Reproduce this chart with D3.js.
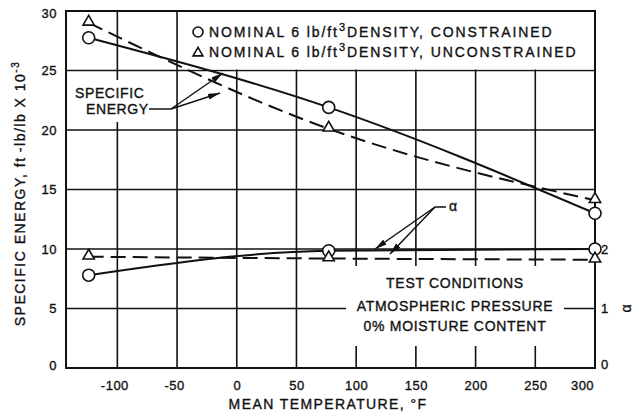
<!DOCTYPE html>
<html>
<head>
<meta charset="utf-8">
<script src="https://cdn.jsdelivr.net/npm/d3@7"></script>
<style>
  body { margin: 0; background: #fff; }
  text { font-family: "Liberation Sans", Arial, sans-serif; fill: #111; stroke: #111; stroke-width: 0.35px; }
</style>
</head>
<body>
<script>
// specific energy and alpha vs mean temperature

var width = 634;
var height = 414;

var temps = [-124, 77, 300];
var energyConstrained = [27.75, 21.9, 13.0];
var energyUnconstrained = [29.0, 20.1, 14.1];
var alphaConstrained = [1.56, 1.97, 2.0];
var alphaUnconstrained = [1.87, 1.84, 1.82];

var xTicks = [-100, -50, 0, 50, 100, 150, 200, 250, 300];
var yTicks = [0, 5, 10, 15, 20, 25, 30];
var alphaTicks = [0, 1, 2];

var plotLeft = 66, plotRight = 595, plotTop = 11, plotBottom = 368;

var xScale = d3.scaleLinear().domain([-143, 300]).range([plotLeft, plotRight]);
var yScale = d3.scaleLinear().domain([0, 30]).range([plotBottom, plotTop]);
var aScale = d3.scaleLinear().domain([0, 6]).range([plotBottom, plotTop]); // alpha on right side

var svg = d3.select("body").append("svg")
  .attr("width", width)
  .attr("height", height);

svg.append("defs").append("marker")
  .attr("id", "arrow")
  .attr("viewBox", "0 0 12 6")
  .attr("refX", 12).attr("refY", 3)
  .attr("markerWidth", 12).attr("markerHeight", 6)
  .attr("markerUnits", "userSpaceOnUse")
  .attr("orient", "auto")
  .append("path")
  .attr("d", "M0,0 L12,3 L0,6 Z")
  .attr("fill", "#111");

// grid
var grid = svg.append("g").attr("stroke", "#111").attr("stroke-width", 1.6);
grid.selectAll("line.v")
  .data(xTicks.filter(function(d){ return d < 300; }))
  .enter().append("line")
  .attr("class", "v")
  .attr("x1", function(d){ return xScale(d); })
  .attr("x2", function(d){ return xScale(d); })
  .attr("y1", plotTop).attr("y2", plotBottom);
grid.selectAll("line.h")
  .data(yTicks.filter(function(d){ return d > 0 && d < 30; }))
  .enter().append("line")
  .attr("class", "h")
  .attr("x1", plotLeft).attr("x2", plotRight)
  .attr("y1", function(d){ return yScale(d); })
  .attr("y2", function(d){ return yScale(d); });

// white areas behind the text blocks
svg.append("rect").attr("x", 190).attr("y", plotTop + 1).attr("width", plotRight - 191).attr("height", yScale(25) - plotTop - 2).attr("fill", "#fff");
svg.append("rect").attr("x", 72).attr("y", 80).attr("width", 78).attr("height", 42).attr("fill", "#fff");
svg.append("rect").attr("x", 346).attr("y", 266).attr("width", 218).attr("height", 80).attr("fill", "#fff");

// frame
svg.append("rect")
  .attr("x", plotLeft).attr("y", plotTop)
  .attr("width", plotRight - plotLeft).attr("height", plotBottom - plotTop)
  .attr("fill", "none").attr("stroke", "#111").attr("stroke-width", 2);

// axes
var plain = function(d){ return String(d); };

var xAxis = svg.append("g")
  .attr("transform", "translate(0," + plotBottom + ")")
  .call(d3.axisBottom(xScale).tickValues(xTicks).tickFormat(plain).tickSize(0).tickPadding(13));
xAxis.select(".domain").remove();
xAxis.selectAll("text")
  .attr("font-size", 13).attr("letter-spacing", 0.5)
  .attr("font-family", "Liberation Sans, Arial, sans-serif")
  .attr("dx", function(d){ return d === 300 ? -13 : (d < 0 ? -3 : 0); });

var yAxis = svg.append("g")
  .attr("transform", "translate(" + plotLeft + ",0)")
  .call(d3.axisLeft(yScale).tickValues(yTicks).tickFormat(plain).tickSize(0).tickPadding(9));
yAxis.select(".domain").remove();
yAxis.selectAll("text")
  .attr("font-size", 13).attr("letter-spacing", 0.5)
  .attr("font-family", "Liberation Sans, Arial, sans-serif")
  .attr("dy", function(d){ return d === 30 ? "0.5em" : (d === 0 ? "0.1em" : "0.32em"); });

var aAxis = svg.append("g")
  .attr("transform", "translate(" + plotRight + ",0)")
  .call(d3.axisRight(aScale).tickValues(alphaTicks).tickFormat(plain).tickSize(0).tickPadding(6));
aAxis.select(".domain").remove();
aAxis.selectAll("text")
  .attr("font-size", 13)
  .attr("font-family", "Liberation Sans, Arial, sans-serif")
  .attr("dy", function(d){ return d === 0 ? "0.05em" : "0.32em"; });

// axis titles
svg.append("text")
  .attr("transform", "translate(25," + ((plotTop + plotBottom) / 2 + 4) + ") rotate(-90)")
  .attr("text-anchor", "middle")
  .attr("font-size", 14).attr("letter-spacing", 1.5)
  .text("SPECIFIC ENERGY, ft\u2009-lb/lb X 10")
  .append("tspan").attr("dy", -6).attr("font-size", 10).text("-3");

svg.append("text")
  .attr("x", 328).attr("y", 409)
  .attr("text-anchor", "middle")
  .attr("font-size", 14).attr("letter-spacing", 1.4)
  .text("MEAN TEMPERATURE, \u00B0F");

svg.append("text")
  .attr("transform", "translate(631," + aScale(1) + ") rotate(-90)")
  .attr("text-anchor", "middle")
  .attr("font-size", 14)
  .text("\u03B1");

// curves
var line = function(vals, scale){
  return d3.line()
    .x(function(d, i){ return xScale(temps[i]); })
    .y(function(d){ return scale(d); })
    .curve(d3.curveMonotoneX)(vals);
};

var series = [
  { vals: energyConstrained, scale: yScale, dash: null, shape: "circle" },
  { vals: energyUnconstrained, scale: yScale, dash: "15,7", shape: "triangle" },
  { vals: alphaConstrained, scale: aScale, dash: null, shape: "circle" },
  { vals: alphaUnconstrained, scale: aScale, dash: "15,7", shape: "triangle" }
];

series.forEach(function(s){
  svg.append("path")
    .attr("d", line(s.vals, s.scale))
    .attr("fill", "none")
    .attr("stroke", "#111")
    .attr("stroke-width", 2)
    .attr("stroke-dasharray", s.dash);
});

var tri = d3.symbol().type(d3.symbolTriangle).size(55);
var triSmall = d3.symbol().type(d3.symbolTriangle).size(42);
series.forEach(function(s){
  var g = svg.append("g");
  if (s.shape === "circle") {
    g.selectAll("circle").data(s.vals).enter().append("circle")
      .attr("cx", function(d, i){ return xScale(temps[i]); })
      .attr("cy", function(d){ return s.scale(d); })
      .attr("r", 6)
      .attr("fill", "#fff").attr("stroke", "#111").attr("stroke-width", 1.6);
  } else {
    g.selectAll("path").data(s.vals).enter().append("path")
      .attr("d", tri)
      .attr("transform", function(d, i){ return "translate(" + xScale(temps[i]) + "," + (s.scale(d) - 1) + ")"; })
      .attr("fill", "#fff").attr("stroke", "#111").attr("stroke-width", 1.6);
  }
});

// legend
var legend = svg.append("g").attr("font-size", 14).attr("letter-spacing", 1.9);
var legendRows = [
  { shape: "circle", label: "CONSTRAINED", y: 32 },
  { shape: "triangle", label: "UNCONSTRAINED", y: 52 }
];
legendRows.forEach(function(r){
  if (r.shape === "circle") {
    legend.append("circle").attr("cx", 198).attr("cy", r.y).attr("r", 5)
      .attr("fill", "#fff").attr("stroke", "#111").attr("stroke-width", 1.6);
  } else {
    legend.append("path").attr("d", triSmall).attr("transform", "translate(198," + (r.y + 1) + ")")
      .attr("fill", "#fff").attr("stroke", "#111").attr("stroke-width", 1.6);
  }
  var t = legend.append("text").attr("x", 209).attr("y", r.y + 5);
  t.append("tspan").text("NOMINAL  6  lb/ft");
  t.append("tspan").attr("dy", -6).attr("font-size", 11).text("3");
  t.append("tspan").attr("dy", 6).text("DENSITY, " + r.label);
});

// annotations
var ann = svg.append("g").attr("font-size", 14).attr("letter-spacing", 0.6);
ann.append("text").attr("x", 75).attr("y", 98).text("SPECIFIC");
ann.append("text").attr("x", 86).attr("y", 114).text("ENERGY");
svg.append("path").attr("d", "M149,109 L171,109").attr("stroke", "#111").attr("stroke-width", 1.5);
svg.append("line").attr("x1", 171).attr("y1", 109).attr("x2", 223).attr("y2", 73)
  .attr("stroke", "#111").attr("stroke-width", 1.5).attr("marker-end", "url(#arrow)");
svg.append("line").attr("x1", 171).attr("y1", 109).attr("x2", 220).attr("y2", 93)
  .attr("stroke", "#111").attr("stroke-width", 1.5).attr("marker-end", "url(#arrow)");

ann.append("text").attr("x", 449).attr("y", 211).attr("font-size", 14).text("\u03B1");
svg.append("path").attr("d", "M435,207 L446,207").attr("stroke", "#111").attr("stroke-width", 1.5);
svg.append("line").attr("x1", 435).attr("y1", 207).attr("x2", 375).attr("y2", 249)
  .attr("stroke", "#111").attr("stroke-width", 1.5).attr("marker-end", "url(#arrow)");
svg.append("line").attr("x1", 435).attr("y1", 207).attr("x2", 390).attr("y2", 254)
  .attr("stroke", "#111").attr("stroke-width", 1.5).attr("marker-end", "url(#arrow)");

var tc = svg.append("g").attr("font-size", 14).attr("letter-spacing", 0.7).attr("text-anchor", "middle");
tc.append("text").attr("x", 455).attr("y", 288).text("TEST CONDITIONS");
tc.append("text").attr("x", 455).attr("y", 311).text("ATMOSPHERIC PRESSURE");
tc.append("text").attr("x", 455).attr("y", 331).text("0% MOISTURE CONTENT");
</script>
</body>
</html>
